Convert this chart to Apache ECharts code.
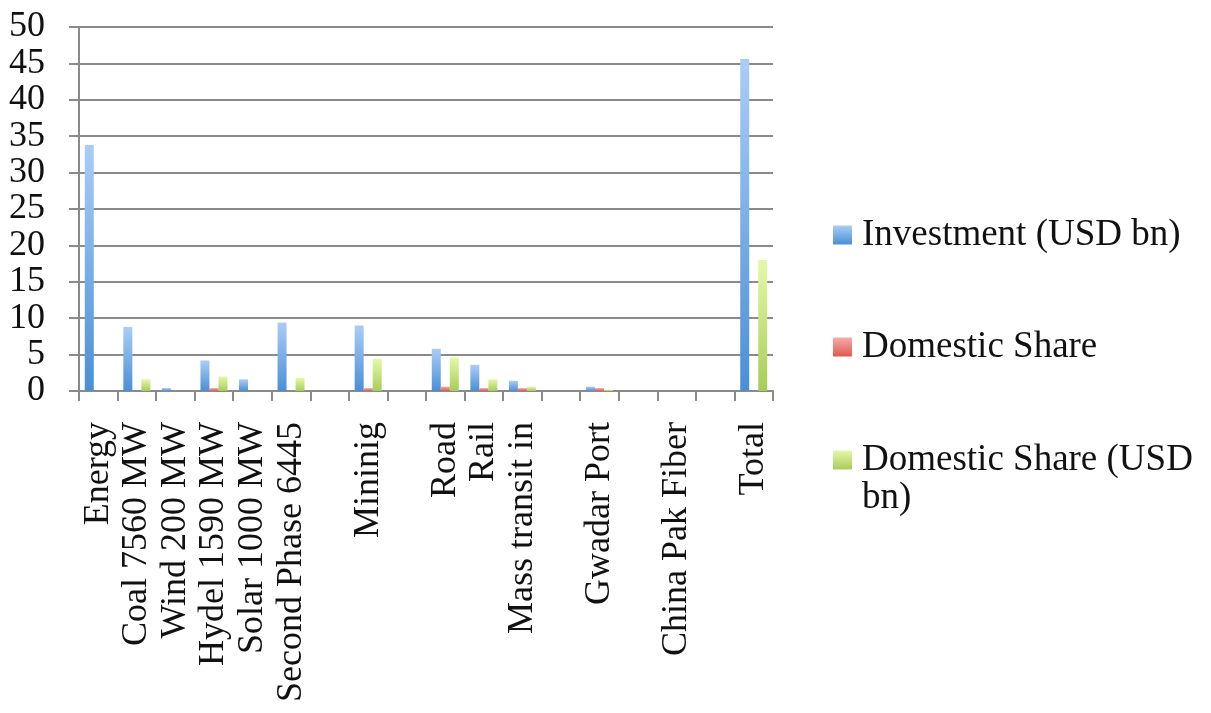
<!DOCTYPE html>
<html>
<head>
<meta charset="utf-8">
<script src="https://cdn.jsdelivr.net/npm/echarts@6/dist/echarts.min.js"></script>
<style>
html,body{margin:0;padding:0;background:#fff;}
#chart{width:1211px;height:713px;}
</style>
</head>
<body>
<div id="chart"></div>
<script>
// ---- data ----
var categories = ["Energy", "Coal 7560 MW", "Wind 200 MW", "Hydel 1590 MW", "Solar 1000 MW", "Second Phase 6445", "", "Mininig", "", "Road", "Rail", "Mass transit in", "", "Gwadar Port", "", "China Pak Fiber", "", "Total"];
var seriesNames = ["Investment (USD bn)", "Domestic Share", "Domestic Share (USD bn)"];
var investment = [33.8, 8.8, 0.4, 4.2, 1.6, 9.4, null, 9.0, null, 5.8, 3.6, 1.4, null, 0.6, null, 0, null, 45.6];
var domesticShare = [0, 0, 0, 0.4, 0, 0, null, 0.4, null, 0.6, 0.4, 0.4, null, 0.4, null, 0, null, 0];
var domesticShareUsd = [0, 1.6, 0, 2.0, 0, 1.8, null, 4.4, null, 4.6, 1.6, 0.6, null, 0.2, null, 0, null, 18.0];
var yTicks = {min: 0, max: 50, step: 5};

// ---- styling ----
var FONT = '"Liberation Serif", "Times New Roman", serif';
var FS = 36;
var LFS = 37;
var GRID_COLOR = '#8a8a8a';
function grad(top, bottom) {
  return {type: 'linear', x: 0, y: 0, x2: 0, y2: 1,
    colorStops: [{offset: 0, color: top}, {offset: 1, color: bottom}]};
}
var colors = [grad('#aacdf7', '#4a8fd6'), grad('#f6aca8', '#df5850'), grad('#e6f8a8', '#a6cd58')];

var chart = echarts.init(document.getElementById('chart'), null, {renderer: 'canvas'});
function legendFor(i, top, formatter) {
  var l = {
    data: [seriesNames[i]],
    orient: 'vertical',
    left: 828,
    top: top,
    itemWidth: 19,
    itemHeight: 19,
    icon: 'rect',
    textStyle: {fontFamily: FONT, fontSize: LFS, color: '#111', lineHeight: 38, padding: [0, 0, 0, 5]}
  };
  if (formatter) l.formatter = formatter;
  return l;
}
var option = {
  animation: false,
  backgroundColor: '#fff',
  grid: {left: 79, right: 438, top: 27, bottom: 322, containLabel: false},
  legend: [
    legendFor(0, 211),
    legendFor(1, 323),
    legendFor(2, 398, function () { return '\nDomestic Share (USD\nbn)'; })
  ],
  xAxis: {
    type: 'category',
    data: categories,
    boundaryGap: true,
    axisLine: {show: true, lineStyle: {color: GRID_COLOR, width: 2}},
    axisTick: {show: true, length: 10, interval: 0, lineStyle: {color: GRID_COLOR, width: 2}},
    axisLabel: {interval: 0, rotate: 90, margin: 31, fontFamily: FONT, fontSize: FS, color: '#111'},
    splitLine: {show: false}
  },
  yAxis: {
    type: 'value',
    min: yTicks.min, max: yTicks.max, interval: yTicks.step,
    axisLine: {show: true, lineStyle: {color: GRID_COLOR, width: 2}},
    axisTick: {show: true, length: 10, lineStyle: {color: GRID_COLOR, width: 2}},
    axisLabel: {margin: 34, fontFamily: FONT, fontSize: FS, color: '#111'},
    splitLine: {show: true, lineStyle: {color: GRID_COLOR, width: 2}}
  },
  series: [investment, domesticShare, domesticShareUsd].map(function (d, i) {
    return {
      name: seriesNames[i],
      type: 'bar',
      data: d,
      barWidth: 9,
      barGap: '0%',
      itemStyle: {color: colors[i]}
    };
  })
};
chart.setOption(option);
</script>
</body>
</html>
